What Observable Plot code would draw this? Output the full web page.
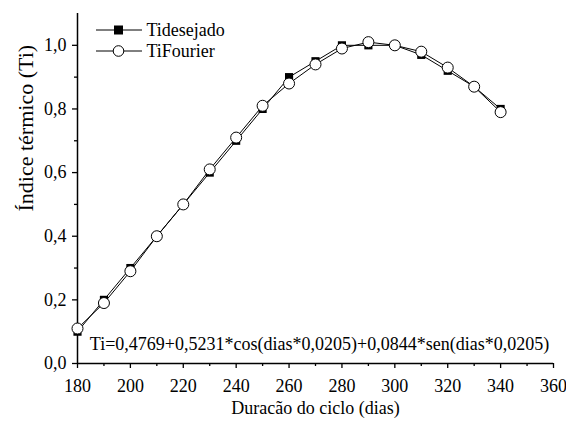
<!DOCTYPE html>
<html>
<head>
<meta charset="utf-8">
<script src="https://cdn.jsdelivr.net/npm/d3@7"></script>
<script src="https://cdn.jsdelivr.net/npm/@observablehq/plot@0.6"></script>
<style>
  html, body { margin: 0; padding: 0; background: #fff; }
  #wrap { position: relative; width: 566px; height: 423px; }
  #legend { position: absolute; left: 96px; top: 18px; }
</style>
</head>
<body>
<div id="wrap">
  <div id="chart"></div>
  <div id="legend"></div>
</div>
<script>
const dias = [180, 190, 200, 210, 220, 230, 240, 250, 260, 270, 280, 290, 300, 310, 320, 330, 340];
const tiDesejado = [0.10, 0.20, 0.30, 0.40, 0.50, 0.60, 0.70, 0.80, 0.90, 0.95, 1.00, 1.00, 1.00, 0.97, 0.92, 0.87, 0.80];
const tiFourier  = [0.11, 0.19, 0.29, 0.40, 0.50, 0.61, 0.71, 0.81, 0.88, 0.94, 0.99, 1.01, 1.00, 0.98, 0.93, 0.87, 0.79];
const seriesNames = ["Tidesejado", "TiFourier"];
const xMajorTicks = [180, 200, 220, 240, 260, 280, 300, 320, 340, 360];
const xMinorTicks = [190, 210, 230, 250, 270, 290, 310, 330, 350];
const yMajorTicks = [0.0, 0.2, 0.4, 0.6, 0.8, 1.0];
const yMinorTicks = [0.1, 0.3, 0.5, 0.7, 0.9];
const equation = "Ti=0,4769+0,5231*cos(dias*0,0205)+0,0844*sen(dias*0,0205)";
const xLabel = "Duracão do ciclo (dias)";
const yLabel = "Índice térmico (Ti)";

const desejado = dias.map((d, i) => ({dias: d, ti: tiDesejado[i]}));
const fourier = dias.map((d, i) => ({dias: d, ti: tiFourier[i]}));
const fmt = d => d.toFixed(1).replace(".", ",");
const FONT = "Liberation Serif";

const chart = Plot.plot({
  width: 566,
  height: 423,
  marginLeft: 77,
  marginRight: 13,
  marginTop: 13,
  marginBottom: 60,
  style: {color: "#000"},
  x: {domain: [180, 360]},
  y: {domain: [0, 1.1]},
  marks: [
    Plot.axisX({ticks: xMinorTicks, tickSize: 3, text: null, label: null, strokeWidth: 1.3}),
    Plot.axisX({ticks: xMajorTicks, tickSize: 5, text: null, label: null, strokeWidth: 1.3}),
    Plot.axisY({ticks: yMinorTicks, tickSize: 3, text: null, label: null, strokeWidth: 1.3}),
    Plot.axisY({ticks: yMajorTicks, tickSize: 5, text: null, label: null, strokeWidth: 1.3}),
    Plot.text(xMajorTicks, {x: d => d, frameAnchor: "bottom", dy: 23, lineAnchor: "middle",
      text: d => String(d), fontSize: 18, fontFamily: FONT, fill: "#000"}),
    Plot.text(yMajorTicks, {y: d => d, frameAnchor: "left", dx: -11, textAnchor: "end", lineAnchor: "middle",
      text: fmt, fontSize: 18, fontFamily: FONT, fill: "#000"}),
    Plot.text([xLabel], {text: d => d, frameAnchor: "bottom", dy: 45, lineAnchor: "middle",
      fontSize: 18, fontFamily: FONT, fill: "#000"}),
    Plot.text([yLabel], {text: d => d, frameAnchor: "left", dx: -52, dy: 23, rotate: -90, lineAnchor: "middle",
      fontSize: 22, fontFamily: FONT, fill: "#000"}),
    Plot.ruleX([180], {stroke: "#000", strokeWidth: 1.5}),
    Plot.ruleY([0], {stroke: "#000", strokeWidth: 1.5}),
    Plot.line(desejado, {x: "dias", y: "ti", stroke: "#000", strokeWidth: 1}),
    Plot.line(fourier, {x: "dias", y: "ti", stroke: "#000", strokeWidth: 1}),
    Plot.dot(desejado, {x: "dias", y: "ti", symbol: "square", r: 4.6, fill: "#000", stroke: "none"}),
    Plot.dot(fourier, {x: "dias", y: "ti", symbol: "circle", r: 5.5, fill: "#fff", stroke: "#000", strokeWidth: 1}),
    Plot.text([equation], {text: d => d, frameAnchor: "bottom", dx: 4, dy: -19, lineAnchor: "middle",
      fontSize: 18, fontFamily: FONT, fill: "#000"}),
    Plot.text([seriesNames[0]], {text: d => d, frameAnchor: "top-left", dx: 69, dy: 17,
      textAnchor: "start", lineAnchor: "middle", fontSize: 18, fontFamily: FONT, fill: "#000"}),
    Plot.text([seriesNames[1]], {text: d => d, frameAnchor: "top-left", dx: 69, dy: 38,
      textAnchor: "start", lineAnchor: "middle", fontSize: 18, fontFamily: FONT, fill: "#000"})
  ]
});
document.getElementById("chart").appendChild(chart);

// legend line + marker samples
const legendSvg = d3.select("#legend").append("svg").attr("width", 50).attr("height", 46);
seriesNames.forEach((name, i) => {
  const g = legendSvg.append("g").attr("transform", `translate(0,${12 + i * 21})`);
  g.append("line").attr("x1", 0).attr("x2", 46).attr("stroke", "#000").attr("stroke-width", 1);
  if (i === 0) g.append("rect").attr("x", 18).attr("y", -4.5).attr("width", 9).attr("height", 9).attr("fill", "#000");
  else g.append("circle").attr("cx", 22.5).attr("r", 5.3).attr("fill", "#fff").attr("stroke", "#000");
});
</script>
</body>
</html>
